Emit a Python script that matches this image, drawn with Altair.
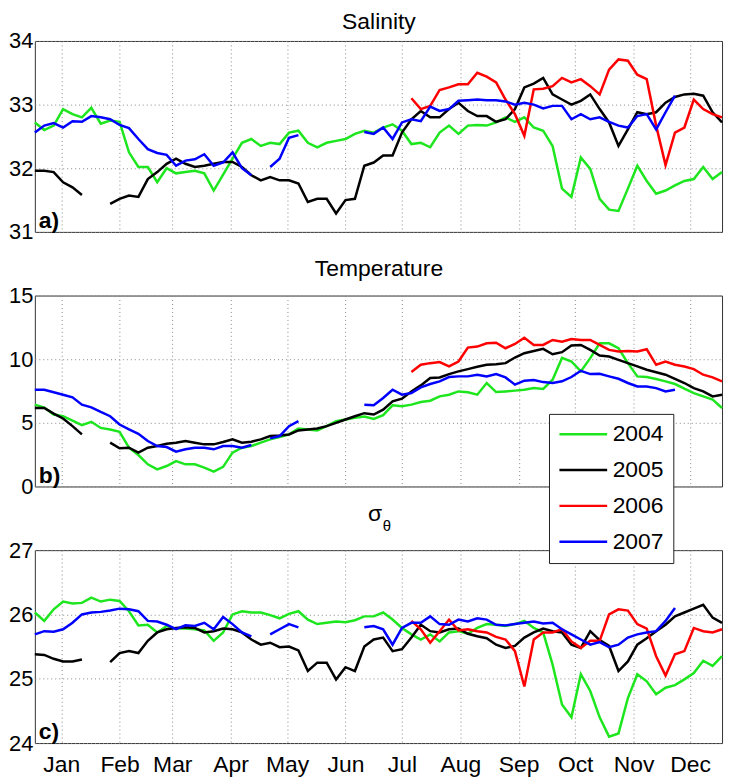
import altair as alt
import pandas as pd

FONT = "Liberation Sans"
MONTHS = ["Jan", "Feb", "Mar", "Apr", "May", "Jun", "Jul", "Aug", "Sep", "Oct", "Nov", "Dec"]
MONTH_TICKS = [14, 45, 73, 104, 134, 165, 195, 226, 257, 287, 318, 348]
DAYS = list(range(0, 366, 5))
YEARS = ["2004", "2005", "2006", "2007"]
COLORS = ["#1ee61e", "#000000", "#ff0000", "#0000ff"]
N = None

SAL_2004 = [32.72, 32.60, 32.67, 32.93, 32.85, 32.80, 32.95, 32.70, 32.75, 32.73,
            32.25, 32.02, 32.02, 31.78, 32.00, 31.92, 31.94, 31.96, 31.92, 31.65,
            31.90, 32.15, 32.40, 32.46, 32.35, 32.40, 32.38, 32.56, 32.59, 32.40,
            32.33, 32.40, 32.43, 32.46, 32.54, 32.59, 32.56, 32.64, 32.69, 32.59,
            32.38, 32.40, 32.33, 32.56, 32.67, 32.54, 32.67, 32.68, 32.67, 32.72,
            32.80, 32.73, 32.80, 32.64, 32.59, 32.35, 31.68, 31.55, 32.17, 31.99,
            31.52, 31.35, 31.33, 31.68, 32.04, 31.80, 31.60, 31.65, 31.73, 31.80,
            31.83, 32.02, 31.83, 31.94]
SAL_2005 = [31.96, 31.96, 31.94, 31.78, 31.70, 31.58, N, N, 31.44, 31.52,
            31.57, 31.55, 31.83, 31.94, 32.07, 32.15, 32.07, 32.02, 32.04, 32.07,
            32.10, 32.10, 32.02, 31.89, 31.81, 31.86, 31.81, 31.81, 31.76, 31.47,
            31.52, 31.52, 31.29, 31.50, 31.52, 32.04, 32.09, 32.20, 32.20, 32.56,
            32.77, 32.90, 32.80, 32.80, 32.93, 33.03, 32.90, 32.82, 32.82, 32.73,
            32.77, 32.93, 33.27, 33.33, 33.42, 33.16, 33.08, 33.00, 33.06, 33.16,
            32.93, 32.72, 32.35, 32.61, 32.88, 32.85, 32.88, 33.03, 33.12, 33.16,
            33.17, 33.14, 32.88, 32.72]
SAL_2006 = [N] * 40 + [
            33.10, 32.93, 32.98, 33.23, 33.27, 33.32, 33.32, 33.50, 33.44, 33.35,
            33.08, 32.85, 32.51, 33.24, 33.25, 33.29, 33.42, 33.35, 33.40, 33.29,
            33.16, 33.55, 33.71, 33.69, 33.47, 33.40, 32.67, 32.05, 32.56, 32.64,
            33.08, 32.93, 32.85, 32.80]
SAL_2007 = [32.56, 32.67, 32.71, 32.64, 32.74, 32.73, 32.82, 32.80, 32.77, 32.68,
            32.63, 32.46, 32.30, 32.24, 32.21, 32.04, 32.12, 32.14, 32.22, 32.04,
            32.09, 32.25, 32.00, 31.89, N, 32.02, 32.15, 32.48, 32.52, N,
            N, N, N, N, N, 32.57, 32.54, 32.64, 32.46, 32.72,
            32.77, 32.74, 32.97, 32.90, 32.93, 33.06, 33.07, 33.08, 33.07, 33.07,
            33.05, 33.00, 33.03, 33.00, 32.94, 32.98, 32.98, 32.77, 32.85, 32.77,
            32.80, 32.73, 32.67, 32.64, 32.82, 32.85, 32.61, 32.88, 33.14, N,
            N, N, N, N]

TEMP_2004 = [6.43, 6.20, 5.65, 5.52, 5.18, 4.82, 5.08, 4.60, 4.48, 4.30,
             3.05, 2.47, 1.74, 1.35, 1.61, 2.00, 1.74, 1.74, 1.48, 1.17,
             1.54, 2.66, 3.05, 3.18, 3.44, 3.70, 3.88, 4.09, 4.56, 4.48,
             4.40, 4.74, 5.13, 5.26, 5.39, 5.50, 5.30, 5.60, 6.38, 6.30,
             6.43, 6.64, 6.74, 7.08, 7.21, 7.47, 7.40, 7.21, 8.13, 7.42,
             7.47, 7.53, 7.60, 7.73, 7.66, 8.39, 10.10, 9.82, 9.04, 10.08,
             11.25, 11.25, 10.86, 9.69, 8.65, 8.60, 8.44, 8.26, 8.05, 7.68,
             7.34, 7.08, 6.82, 6.17]
TEMP_2005 = [6.17, 6.17, 5.73, 5.34, 4.74, 4.09, N, N, 3.45, 3.00,
             3.05, 2.66, 3.05, 3.18, 3.36, 3.44, 3.57, 3.44, 3.31, 3.31,
             3.49, 3.70, 3.44, 3.52, 3.70, 3.96, 4.01, 4.09, 4.40, 4.48,
             4.56, 4.74, 5.00, 5.26, 5.52, 5.76, 5.65, 6.04, 6.69, 6.90,
             7.47, 7.94, 8.52, 8.57, 8.83, 9.04, 9.22, 9.40, 9.56, 9.61,
             9.69, 10.13, 10.47, 10.65, 10.81, 10.39, 10.55, 11.07, 11.12, 10.73,
             10.29, 10.21, 9.95, 9.69, 9.43, 9.17, 8.98, 8.78, 8.46, 8.13,
             7.73, 7.47, 7.08, 7.21]
TEMP_2006 = [N] * 40 + [
             9.00, 9.56, 9.69, 9.77, 9.43, 9.82, 10.91, 10.99, 11.25, 11.30,
             10.86, 11.20, 11.69, 11.12, 11.12, 11.51, 11.38, 11.59, 11.51, 11.51,
             11.12, 10.73, 10.60, 10.65, 10.60, 10.78, 9.56, 9.82, 9.56, 9.43,
             9.22, 8.78, 8.57, 8.26]
TEMP_2007 = [7.60, 7.60, 7.40, 7.21, 7.00, 6.43, 6.22, 5.86, 5.52, 4.87,
             4.48, 4.14, 3.57, 3.18, 3.10, 2.73, 2.92, 3.05, 3.05, 2.92,
             3.18, 3.18, 3.05, 3.26, N, 3.78, 3.96, 4.74, 5.13, N,
             N, N, N, N, N, 6.43, 6.38, 6.95, 7.60, 7.21,
             7.34, 7.79, 8.05, 8.26, 8.60, 8.65, 8.65, 8.78, 8.65, 8.83,
             8.57, 8.00, 8.31, 8.36, 8.20, 8.13, 8.26, 8.60, 9.09, 8.83,
             8.85, 8.65, 8.46, 8.13, 7.86, 7.86, 7.73, 7.47, 7.60, N,
             N, N, N, N]

SIG_2004 = [26.03, 25.90, 26.08, 26.20, 26.17, 26.18, 26.26, 26.20, 26.23, 26.21,
            26.05, 25.83, 25.84, 25.72, 25.82, 25.78, 25.78, 25.77, 25.75, 25.59,
            25.72, 26.00, 26.05, 26.03, 26.03, 25.99, 25.94, 26.01, 26.05, 25.92,
            25.85, 25.87, 25.89, 25.88, 25.91, 25.97, 25.97, 26.03, 25.92, 25.79,
            25.69, 25.61, 25.69, 25.58, 25.72, 25.74, 25.70, 25.79, 25.85, 25.84,
            25.82, 25.85, 25.90, 25.79, 25.72, 25.22, 24.60, 24.40, 25.07, 24.81,
            24.40, 24.10, 24.15, 24.70, 25.07, 24.96, 24.76, 24.86, 24.90, 24.99,
            25.09, 25.28, 25.20, 25.35]
SIG_2005 = [25.38, 25.37, 25.31, 25.27, 25.27, 25.30, N, N, 25.26, 25.40,
            25.43, 25.40, 25.59, 25.72, 25.77, 25.79, 25.80, 25.79, 25.72, 25.74,
            25.78, 25.77, 25.72, 25.61, 25.53, 25.56, 25.49, 25.50, 25.44, 25.12,
            25.25, 25.25, 24.99, 25.18, 25.12, 25.50, 25.61, 25.64, 25.43, 25.46,
            25.64, 25.84, 25.74, 25.72, 25.77, 25.78, 25.70, 25.66, 25.63, 25.53,
            25.48, 25.51, 25.64, 25.72, 25.78, 25.74, 25.72, 25.53, 25.48, 25.74,
            25.60, 25.51, 25.12, 25.27, 25.53, 25.63, 25.74, 25.84, 25.97, 26.03,
            26.09, 26.15, 25.95, 25.87]
SIG_2006 = [N] * 40 + [
            25.90, 25.77, 25.56, 25.74, 25.92, 25.75, 25.77, 25.74, 25.72, 25.65,
            25.61, 25.43, 24.88, 25.61, 25.72, 25.72, 25.77, 25.58, 25.48, 25.59,
            25.59, 26.00, 26.08, 26.06, 25.85, 25.78, 25.35, 25.05, 25.38, 25.43,
            25.79, 25.74, 25.72, 25.77]
SIG_2007 = [25.69, 25.74, 25.73, 25.77, 25.87, 26.00, 26.03, 26.04, 26.06, 26.09,
            26.08, 26.05, 25.90, 25.89, 25.84, 25.77, 25.83, 25.82, 25.87, 25.77,
            25.96, 25.85, 25.72, 25.66, N, 25.69, 25.77, 25.85, 25.80, N,
            N, N, N, N, N, 25.80, 25.82, 25.77, 25.53, 25.79,
            25.87, 25.87, 25.97, 25.85, 25.84, 25.92, 25.89, 25.94, 25.92, 25.84,
            25.83, 25.85, 25.87, 25.89, 25.86, 25.87, 25.77, 25.69, 25.61, 25.53,
            25.57, 25.49, 25.53, 25.64, 25.69, 25.72, 25.74, 25.90, 26.10, N,
            N, N, N, N]

W = 691


def frame(series):
    rows = []
    for yr, vals in zip(YEARS, series):
        seg, gap = 0, True
        for d, v in zip(DAYS, vals):
            if v is None:
                gap = True
                continue
            if gap:
                seg += 1
                gap = False
            rows.append({"day": d, "value": v, "year": yr, "seg": f"{yr}-{seg}"})
    return pd.DataFrame(rows)


LABEL_EXPR = "[" + ",".join(f"'{m}'" for m in MONTHS) + "][floor(datum.value / 30.44)]"

# legend line: custom path, 48 px long, drawn from the entry's left edge
LEGEND = alt.Legend(
    title=None, orient="none", legendX=517, legendY=375,
    symbolType="M-2.4,0L2.4,0", symbolSize=400, symbolOffset=14, symbolStrokeWidth=2.5,
    labelFont=FONT, labelFontSize=23, labelColor="black", labelOffset=18,
    rowPadding=12, padding=9, strokeColor="#222", fillColor="white",
    cornerRadius=0,
)


def panel(series, domain, ticks, tag, show_x, titles, height):
    df = frame(series)
    x_axis = alt.Axis(values=MONTH_TICKS, labels=show_x, labelExpr=LABEL_EXPR,
                      grid=True, ticks=False, domain=False, title=None,
                      labelFontSize=23, labelPadding=11, labelBaseline="top")
    y_axis = alt.Axis(values=ticks, grid=True, ticks=False, domain=False, title=None,
                      labelFontSize=22, labelPadding=2, format="d")
    lines = alt.Chart(df).mark_line(strokeWidth=2.5).encode(
        x=alt.X("day:Q", scale=alt.Scale(domain=[0, 365], nice=False, zero=False), axis=x_axis),
        y=alt.Y("value:Q", scale=alt.Scale(domain=domain, nice=False, zero=False), axis=y_axis),
        color=alt.Color("year:N", scale=alt.Scale(domain=YEARS, range=COLORS), legend=LEGEND),
        detail="seg:N",
    )
    layers = [lines]
    for text, size, xpos, ypos in titles:
        layers.append(
            alt.Chart(pd.DataFrame({"t": [text]})).mark_text(
                font=FONT, fontSize=size, baseline="alphabetic", align="center", color="black"
            ).encode(text="t:N", x=alt.value(xpos), y=alt.value(ypos))
        )
    layers.append(
        alt.Chart(pd.DataFrame({"t": [tag]})).mark_text(
            font=FONT, fontSize=23, fontWeight="bold", baseline="alphabetic", align="left", color="black"
        ).encode(text="t:N", x=alt.value(4), y=alt.value(height - 4))
    )
    return alt.layer(*layers).properties(width=W, height=height)


pa = panel([SAL_2004, SAL_2005, SAL_2006, SAL_2007], [31, 34], [31, 32, 33, 34], "a)", False,
           [("Salinity", 23, 346, -12)], 192)
pb = panel([TEMP_2004, TEMP_2005, TEMP_2006, TEMP_2007], [0, 15], [0, 5, 10, 15], "b)", False,
           [("Temperature", 23, 346, -20)], 192)
pc = panel([SIG_2004, SIG_2005, SIG_2006, SIG_2007], [24, 27], [24, 25, 26, 27], "c)", True,
           [("σ", 23, 342, -29), ("θ", 15, 354, -19)], 194)

chart = alt.vconcat(pa, pb, pc, spacing=64, bounds="flush").properties(
    padding=0
).configure_view(
    stroke="#333", strokeWidth=1
).configure_axis(
    labelFont=FONT, labelColor="black", gridColor="#888", gridDash=[1, 3], gridWidth=1
)

chart.save("out.html", embed_options={"renderer": "svg", "actions": False})
